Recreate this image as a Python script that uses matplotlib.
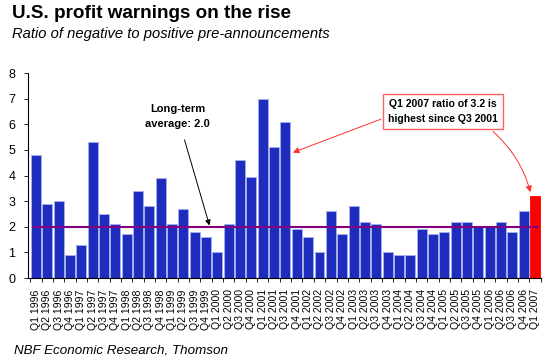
import matplotlib
matplotlib.use("Agg")
import matplotlib.pyplot as plt
import numpy as np

plt.rcParams['font.family'] = ['Liberation Sans', 'DejaVu Sans']

quarters = [f"Q{q} {y}" for y in range(1996, 2007) for q in range(1, 5)] + ["Q1 2007"]
values = [4.8, 2.9, 3.0, 0.9,
          1.3, 5.3, 2.5, 2.1,
          1.7, 3.4, 2.8, 3.9,
          2.1, 2.7, 1.8, 1.6,
          1.0, 2.1, 4.6, 3.95,
          7.0, 5.1, 6.1, 1.9,
          1.6, 1.0, 2.6, 1.7,
          2.8, 2.2, 2.1, 1.0,
          0.9, 0.9, 1.9, 1.7,
          1.8, 2.2, 2.2, 2.0,
          2.0, 2.2, 1.8, 2.6,
          3.2]
average = 2.0
yticks = list(range(0, 9))

fig = plt.figure(figsize=(5.5, 3.62), dpi=100)
ax = fig.add_axes([0.051, 0.232, 0.933, 0.566])

x = np.arange(len(values))
colors = ['#1f2dbf'] * (len(values) - 1) + ['#ff0000']
edges = ['#a8b2f0'] * (len(values) - 1) + ['#ff0000']
ax.bar(x, values, width=0.88, color=colors, edgecolor=edges, linewidth=0.6, zorder=2)

ax.plot([-0.15, 44.2], [average, average], color='#800080', lw=1.5, zorder=3)

ax.set_xlim(-0.7, 44.55)
ax.set_ylim(0, 8)
ax.set_yticks(yticks)
ax.set_yticklabels([str(t) for t in yticks], fontsize=9)
ax.set_xticks(x)
ax.set_xticklabels(quarters, rotation=90, fontsize=7.6)
ax.tick_params(axis='x', length=0, pad=8)
ax.set_xticks(np.arange(-0.5, len(values), 1.0), minor=True)
ax.tick_params(axis='x', which='minor', length=3, width=0.6)
ax.tick_params(axis='y', length=3, width=0.6, pad=6)
ax.spines['top'].set_visible(False)
ax.spines['right'].set_visible(False)
ax.spines['left'].set_linewidth(0.8)
ax.spines['bottom'].set_linewidth(0.8)

# annotations
ax.annotate("Long-term\naverage: 2.0", xy=(15.3, 2.05), xytext=(12.5, 6.3),
            fontsize=8, fontweight='bold', ha='center', va='center', linespacing=1.6,
            arrowprops=dict(arrowstyle='-|>', color='black', lw=0.7, mutation_scale=8,
                            shrinkA=6, shrinkB=0), zorder=5)

box_kw = dict(boxstyle='square,pad=0.5', fc='white', ec='#ff6060', lw=1)
ax.text(35.9, 6.5, "Q1 2007 ratio of 3.2 is\nhighest since Q3 2001", fontsize=7.6,
        fontweight='bold', ha='center', va='center', linespacing=1.6, bbox=box_kw, zorder=6)
ax.annotate("", xy=(22.65, 4.9), xytext=(30.4, 6.2),
            arrowprops=dict(arrowstyle='-|>', color='#ff3030', lw=0.7, mutation_scale=9,
                            shrinkA=0, shrinkB=0), zorder=5)
ax.annotate("", xy=(43.6, 3.35), xytext=(40.3, 5.72),
            arrowprops=dict(arrowstyle='-|>', color='#ff3030', lw=0.7, mutation_scale=9,
                            shrinkA=0, shrinkB=0, connectionstyle='arc3,rad=-0.15'), zorder=5)

fig.text(0.022, 0.962, "U.S. profit warnings on the rise", fontsize=13.6, fontweight='bold',
         ha='left', va='center')
fig.text(0.022, 0.906, "Ratio of negative to positive pre-announcements", fontsize=10.6,
         style='italic', ha='left', va='center')
fig.text(0.025, 0.032, "NBF Economic Research, Thomson", fontsize=9.6, style='italic',
         ha='left', va='center')

fig.savefig("out.png", dpi=100)
